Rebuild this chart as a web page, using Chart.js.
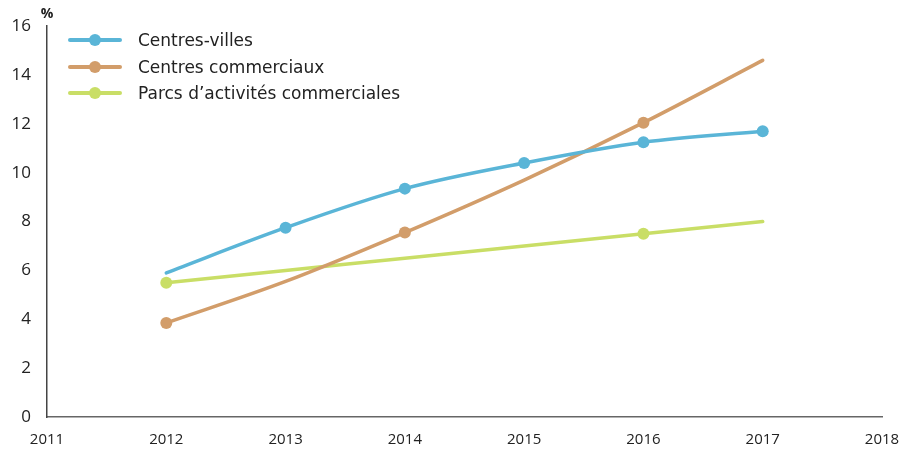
<!DOCTYPE html>
<html>
<head>
<meta charset="utf-8">
<script src="https://cdn.jsdelivr.net/npm/chart.js@4"></script>
<style>
  body { margin: 0; background: #fff; }
  #wrap { position: relative; width: 904px; height: 454px; }
  #legend { position: absolute; left: 68px; top: 27px; font-family: "DejaVu Sans", sans-serif; font-size: 17px; color: #222; }
  .item { display: flex; align-items: center; height: 26.5px; }
  .swatch { position: relative; width: 54px; height: 4px; margin-right: 16px; border-radius: 2px; }
  .swatch span { position: absolute; left: 21px; top: -4px; width: 12px; height: 12px; border-radius: 50%; }
</style>
</head>
<body>
<div id="wrap">
  <canvas id="chart" width="904" height="454"></canvas>
  <div id="legend"></div>
</div>
<script>
const years = [2012, 2013, 2014, 2015, 2016, 2017];
const centresVilles = [5.9, 7.75, 9.35, 10.4, 11.25, 11.7];
const centresCommerciaux = [3.85, 5.55, 7.55, 9.7, 12.05, 14.6];
const parcsActivites = [5.5, 6.0, 6.5, 7.0, 7.5, 8.0];
// which points show a marker
const markersVilles = [0, 1, 1, 1, 1, 1];
const markersCommerciaux = [1, 0, 1, 0, 1, 0];
const markersParcs = [1, 0, 0, 0, 1, 0];
const yTicks = [0, 2, 4, 6, 8, 10, 12, 14, 16];

function pts(values) {
  return values.map(function (v, i) { return { x: years[i], y: v }; });
}

const series = [
  { label: "Centres-villes", data: centresVilles, marks: markersVilles, color: "#5ab5d7" },
  { label: "Centres commerciaux", data: centresCommerciaux, marks: markersCommerciaux, color: "#d29d6a" },
  { label: "Parcs d\u2019activités commerciales", data: parcsActivites, marks: markersParcs, color: "#c9de66" },
];

const percentLabel = {
  id: "percentLabel",
  afterDraw(chart) {
    const c = chart.ctx;
    c.save();
    c.font = "bold 14px 'Open Sans', sans-serif";
    c.fillStyle = "#222";
    c.textAlign = "center";
    c.fillText("%", chart.chartArea.left, 18);
    c.restore();
  },
};

new Chart(document.getElementById("chart"), {
  type: "line",
  data: {
    datasets: series.map(function (s) {
      return {
        label: s.label,
        data: pts(s.data),
        borderColor: s.color,
        backgroundColor: s.color,
        borderWidth: 3.5,
        pointRadius: s.marks.map(function (m) { return m ? 6 : 0; }),
        pointBorderWidth: 0,
        pointBackgroundColor: s.color,
        cubicInterpolationMode: "monotone",
        borderCapStyle: "round",
        fill: false,
      };
    }),
  },
  options: {
    responsive: false,
    animation: false,
    layout: { padding: { top: 24, right: 22, left: 0, bottom: 0 } },
    plugins: { legend: { display: false }, tooltip: { enabled: false } },
    scales: {
      x: {
        type: "linear",
        min: 2011,
        max: 2018,
        grid: { display: false, drawTicks: false },
        border: { color: "#666", width: 1.5 },
        ticks: {
          stepSize: 1,
          padding: 14,
          color: "#222",
          font: { family: "'Open Sans', sans-serif", size: 15 },
          callback: function (v) { return String(v); },
        },
        afterFit: function (scale) {
          scale.height = 37;
          scale.paddingLeft = 0;
          scale.paddingRight = 0;
        },
      },
      y: {
        min: 0,
        max: 16,
        grid: { display: false, drawTicks: false },
        border: { color: "#444", width: 1.5 },
        afterBuildTicks: function (scale) {
          scale.ticks = yTicks.map(function (v) { return { value: v }; });
        },
        ticks: {
          padding: 16,
          color: "#222",
          font: { family: "'Open Sans', sans-serif", size: 17 },
        },
        afterFit: function (scale) { scale.width = 47; },
      },
    },
  },
  plugins: [percentLabel],
});

const legend = document.getElementById("legend");
series.forEach(function (s) {
  const row = document.createElement("div");
  row.className = "item";
  row.innerHTML = '<div class="swatch" style="background:' + s.color + '"><span style="background:' + s.color + '"></span></div>' + s.label;
  legend.appendChild(row);
});
</script>
</body>
</html>
